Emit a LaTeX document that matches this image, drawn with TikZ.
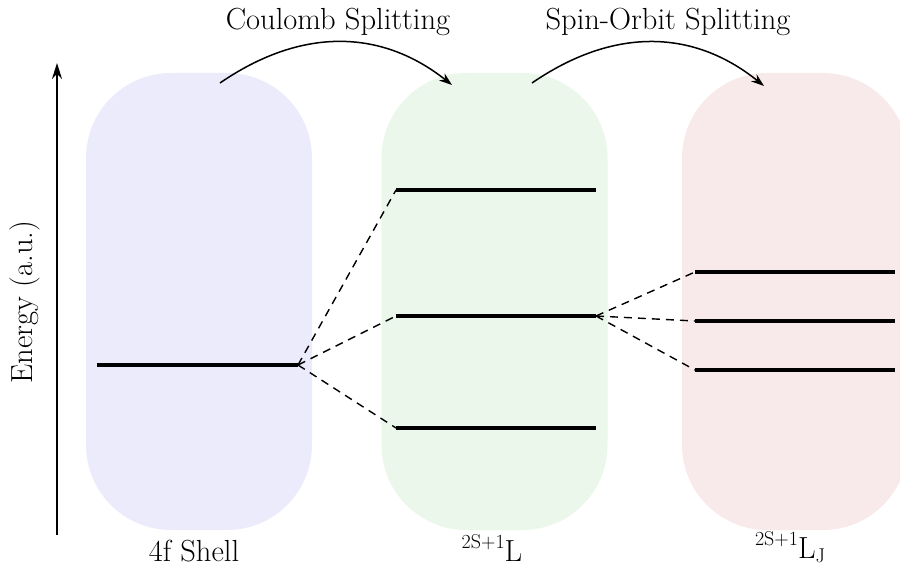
\documentclass[tikz,border=0pt]{standalone}
\usetikzlibrary{arrows.meta}
\definecolor{boxblue}{RGB}{236,235,252}
\definecolor{boxgreen}{RGB}{234,247,234}
\definecolor{boxpink}{RGB}{248,234,234}
\newcommand{\supsm}[1]{\raisebox{0.42em}{\fontsize{20}{21}\selectfont #1}}
\newcommand{\subsm}[1]{\raisebox{-0.15em}{\fontsize{20}{21}\selectfont #1}}
\begin{document}
\begin{tikzpicture}[x=1pt,y=-1pt,
  every node/.style={font=\fontsize{30.5}{36}\selectfont, inner sep=0pt},
  shellbox/.style={draw=none, rounded corners=85pt, minimum width=226pt, minimum height=457pt, inner sep=0pt},
  level/.style={line width=4pt},
  link/.style={line width=1.4pt, dash pattern=on 8pt off 6pt},
  flow/.style={line width=1.5pt, -{Stealth[length=13pt,width=9pt]}},
  axis/.style={line width=2pt, -{Stealth[length=16pt,width=10pt]}},
]
\useasboundingbox (0,0) rectangle (900,569);
\clip (0,0) rectangle (900,569);

% shells
\node[shellbox, fill=boxblue]  (b1) at (199,301.5) {};
\node[shellbox, fill=boxgreen] (b2) at (494.5,301.5) {};
\node[shellbox, fill=boxpink]  (b3) at (795,301.5) {};

% axis
\coordinate (ax0) at (57,535);
\coordinate (ax1) at (57,63);
\draw[axis] (ax0) -- (ax1);
\node[rotate=90] (elab) at (25,302) {Energy (a.u.)};

% levels
\coordinate (aL) at (97,365);  \coordinate (aR) at (298,365);
\coordinate (c1L) at (396,190); \coordinate (c1R) at (596,190);
\coordinate (c2L) at (396,316); \coordinate (c2R) at (596,316);
\coordinate (c3L) at (396,428); \coordinate (c3R) at (596,428);
\coordinate (d1L) at (695,272); \coordinate (d1R) at (895,272);
\coordinate (d2L) at (695,321); \coordinate (d2R) at (895,321);
\coordinate (d3L) at (695,370); \coordinate (d3R) at (895,370);

\draw[level] (aL) -- (aR);
\draw[level] (c1L) -- (c1R);
\draw[level] (c2L) -- (c2R);
\draw[level] (c3L) -- (c3R);
\draw[level] (d1L) -- (d1R);
\draw[level] (d2L) -- (d2R);
\draw[level] (d3L) -- (d3R);

% splitting links
\draw[link] (aR) -- (c1L);
\draw[link] (aR) -- (c2L);
\draw[link] (aR) -- (c3L);
\draw[link] (c2R) -- (d1L);
\draw[link] (c2R) -- (d2L);
\draw[link] (c2R) -- (d3L);

% top arrows
\coordinate (f1s) at (220,83); \coordinate (f1e) at (452,85);
\coordinate (f2s) at (532,83); \coordinate (f2e) at (764,86);
\draw[flow] (f1s) .. controls (300,28) and (380,28) .. (f1e);
\draw[flow] (f2s) .. controls (612,28) and (692,28) .. (f2e);

\node[anchor=base] (t1) at (338,30) {Coulomb Splitting};
\node[anchor=base] (t2) at (668,30) {Spin-Orbit Splitting};

% bottom labels
\node[anchor=base] (l1) at (194,561) {4f Shell};
\node[anchor=base] (l2) at (492,561) {\supsm{2S+1}L};
\node[anchor=base] (l3) at (790,558) {\supsm{2S+1}L\subsm{J}};
\end{tikzpicture}
\end{document}
